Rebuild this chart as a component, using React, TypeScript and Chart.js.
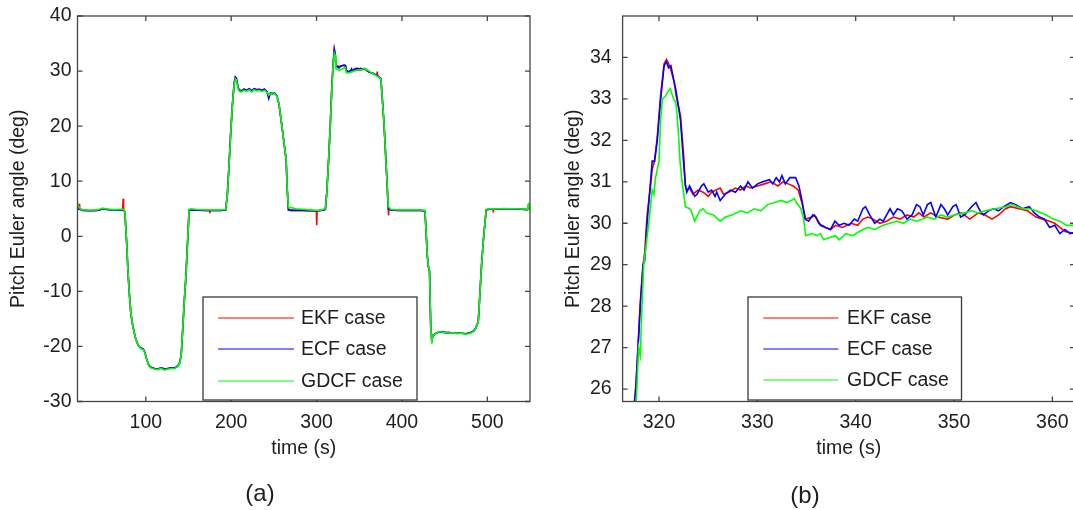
import React, { useEffect, useRef } from 'react';
import { Chart, registerables } from 'chart.js';

Chart.register(...registerables);

const FONT = "'Liberation Sans', Arial, Helvetica, sans-serif";
const TEXT_COLOR = '#1e1e1e';
const AXIS_COLOR = '#454545';

const seriesNames = ['EKF case', 'ECF case', 'GDCF case'];
const seriesColors = ['#ff0000', '#0000ff', '#00ff00'];

const leftXTicks = [100, 200, 300, 400, 500];
const leftYTicks = [-30, -20, -10, 0, 10, 20, 30, 40];
const rightXTicks = [320, 330, 340, 350, 360];
const rightYTicks = [26, 27, 28, 29, 30, 31, 32, 33, 34];

// ---------- (a) full run: [time s, pitch deg] ----------
const leftGDCF: [number, number][] = [
  [20, 5.6], [21.5, 5.4], [23, 5.0], [27, 4.8], [35, 4.75], [42, 4.8], [46, 4.9], [49, 5.1], [53, 5.0], [60, 4.85],
  [66, 4.85], [70, 4.9], [74, 4.85], [75.5, 4.5], [77.5, -1], [79, -6], [80.5, -10], [82.5, -14], [85, -16.5], [88, -18.5],
  [91, -19.8], [94, -20.4], [97, -20.6], [99, -21.2], [101, -22.3], [103.5, -23.5], [106, -23.9], [110, -24.1], [114, -24.2], [118, -24.0],
  [122, -24.3], [126, -24.1], [130, -24.0], [134, -24.0], [137, -23.7], [139.5, -23.2], [141.5, -21.5], [143, -17.5], [145, -12], [146.7, -8],
  [148.3, -3], [149.9, 2], [150.6, 4.9], [153, 5.0], [160, 4.85], [170, 4.8], [180, 4.8], [188, 4.8], [193.5, 4.9], [195.5, 7.5],
  [197.5, 13], [199.5, 19], [201.5, 24], [203.5, 27.5], [204.8, 28.6], [206, 28.4], [207.5, 27.3], [209, 26.4], [212, 26.2], [215, 26.5],
  [218, 26.3], [221, 26.6], [224, 26.2], [227, 26.6], [230, 26.4], [233, 26.5], [236, 26.3], [239, 26.5], [242, 26.1], [244, 25.6],
  [246, 25.9], [249, 25.8], [251, 25.9], [253.5, 25.4], [256, 24], [258.5, 21.1], [261, 18], [264.4, 13.9], [265.5, 9], [267, 5.2],
  [270, 5.2], [276, 5.0], [284, 4.9], [292, 4.8], [300, 4.7], [305, 4.75], [308, 4.9], [310.3, 5.0], [312, 8], [314, 13.5],
  [316, 20], [318, 27], [319.5, 31.5], [320.9, 33.2], [321.7, 32.9], [322.7, 30.4], [324.5, 30.3], [326.2, 30.1], [329, 30.3], [331.7, 30.5],
  [333.7, 30.6], [334.9, 29.7], [337, 29.65], [340.4, 29.8], [344, 30.0], [348.7, 30.2], [352.5, 30.3], [355.9, 30.45], [359.4, 30.2], [362, 29.95],
  [366, 29.5], [369.5, 29.2], [372, 29.0], [375.4, 28.5], [377, 25], [379, 20.5], [382, 11.5], [384, 5.4], [387, 4.9], [395, 4.8],
  [405, 4.8], [415, 4.8], [422, 4.8], [427, 4.7], [429.8, -3.7], [431, -5.5], [432.3, -6.3], [433.8, -17], [434.5, -17.8], [435, -19.5],
  [435.8, -18.3], [437.6, -17.9], [440, -17.6], [444, -17.3], [448, -17.5], [452, -17.4], [456, -17.6], [460, -17.5], [465, -17.7], [470, -17.6],
  [475, -17.8], [480, -17.6], [484, -17.3], [486.3, -16.8], [489.4, -15.5], [491.5, -10], [493.4, -4.9], [495.5, -0.5], [497.2, 2.4], [498.7, 4.9],
  [502, 5.0], [510, 4.95], [520, 5.05], [530, 5.0], [540, 4.95], [546.6, 4.9], [547.5, 5.7], [548.5, 5.9], [550, 4.5],
];

const leftECF: [number, number][] = [
  [20, 5.0], [22, 4.9], [27, 4.7], [35, 4.65], [42, 4.7], [46, 4.8], [49, 5.0], [53, 4.9], [60, 4.75], [66, 4.75],
  [70, 4.8], [74, 4.75], [75.5, 4.4], [77.5, -1], [79, -6], [80.5, -10], [82.5, -14], [85, -16.5], [88, -18.5], [91, -19.8],
  [94, -20.3], [97, -20.5], [99, -21.1], [101, -22.3], [103.5, -23.4], [106, -23.8], [110, -24.0], [114, -24.1], [118, -23.9], [122, -24.1],
  [126, -24.0], [130, -23.9], [134, -23.9], [137, -23.6], [139.5, -23.1], [141.5, -21.5], [143, -17.5], [145, -12], [146.7, -8], [148.3, -3],
  [149.9, 2], [150.6, 4.8], [153, 4.8], [160, 4.75], [170, 4.7], [180, 4.7], [188, 4.7], [193.5, 4.8], [195.5, 7.5], [197.5, 13],
  [199.5, 19], [201.5, 24], [203.5, 27.8], [204.8, 28.9], [206, 28.7], [207.5, 27.5], [209, 26.6], [212, 26.4], [215, 26.7], [218, 26.5],
  [221, 26.8], [224, 26.4], [227, 26.8], [230, 26.6], [233, 26.7], [236, 26.5], [239, 26.7], [242, 26.2], [244, 25.0], [246, 26.0],
  [249, 25.9], [251, 26.0], [253.5, 25.5], [256, 24], [258.5, 21.1], [261, 18], [264.4, 13.9], [265.5, 9], [267, 4.8], [270, 4.7],
  [276, 4.7], [284, 4.7], [292, 4.65], [300, 4.6], [305, 4.7], [308, 4.8], [310.3, 4.9], [312, 8], [314, 13.5], [316, 20],
  [318, 27.5], [319.5, 31.5], [320.8, 33.9], [321.7, 33.2], [322.8, 30.75], [324.5, 30.9], [326.2, 30.55], [328.3, 30.9], [331.2, 31.05], [333.3, 31.1],
  [334.2, 30.9], [334.9, 30.1], [337.4, 29.85], [339.9, 30.1], [341, 30.4], [342, 30.0], [344.2, 30.35], [346.2, 30.45], [347.6, 30.5], [350, 30.4],
  [352.2, 30.5], [354, 30.35], [355.8, 30.5], [358.2, 30.25], [360.2, 29.95], [362, 29.8], [366, 29.6], [369.5, 29.3], [372, 29.1], [375.4, 28.6],
  [377, 25], [379, 20.5], [382, 11.5], [384, 5.0], [387, 4.8], [395, 4.7], [405, 4.75], [415, 4.7], [422, 4.7], [427, 4.6],
  [429.8, -3.7], [431, -5.5], [432.3, -6.3], [433.8, -17], [434.5, -17.8], [435, -19.2], [435.8, -18.3], [437.6, -17.9], [440, -17.6], [444, -17.4],
  [448, -17.4], [452, -17.5], [456, -17.5], [460, -17.6], [465, -17.6], [470, -17.6], [475, -17.7], [480, -17.5], [484, -17.2], [486.3, -16.7],
  [489.4, -15.5], [491.5, -10], [493.4, -4.9], [495.5, -0.5], [497.2, 2.4], [498.7, 4.8], [502, 4.9], [510, 4.9], [520, 5.0], [530, 4.95],
  [540, 4.9], [546.6, 4.85], [548, 5.0], [550, 4.8],
];

const leftEKF: [number, number][] = [
  [20, 5.0], [21.5, 5.0], [22, 5.9], [22.5, 5.0], [27, 4.7], [35, 4.65], [42, 4.7], [46, 4.8], [49, 5.0], [53, 4.9],
  [60, 4.75], [66, 4.75], [70, 4.8], [73, 4.8], [73.5, 6.8], [74, 4.8], [75.5, 4.4], [77.5, -1], [79, -6], [80.5, -10],
  [82.5, -14], [85, -16.5], [88, -18.5], [91, -19.8], [94, -20.3], [97, -20.5], [99, -21.1], [101, -22.3], [103.5, -23.4], [106, -23.8],
  [110, -24.0], [114, -24.1], [118, -23.9], [122, -24.1], [126, -24.0], [130, -23.9], [134, -23.9], [137, -23.6], [139.5, -23.1], [141.5, -21.5],
  [143, -17.5], [145, -12], [146.7, -8], [148.3, -3], [149.9, 2], [150.6, 4.8], [153, 4.8], [160, 4.75], [170, 4.7], [174.7, 4.7],
  [175, 4.2], [175.3, 4.7], [180, 4.7], [188, 4.7], [193.5, 4.8], [195.5, 7.5], [197.5, 13], [199.5, 19], [201.5, 24], [203.5, 27.8],
  [204.8, 28.9], [206, 28.7], [207.5, 27.5], [209, 26.6], [212, 26.4], [215, 26.7], [218, 26.5], [221, 26.8], [224, 26.4], [227, 26.8],
  [230, 26.6], [233, 26.7], [236, 26.5], [239, 26.7], [242, 26.2], [244, 25.4], [246, 26.0], [249, 25.9], [251, 26.0], [253.5, 25.5],
  [256, 24], [258.5, 21.1], [261, 18], [264.4, 13.9], [265.5, 9], [267, 4.8], [270, 4.7], [276, 4.7], [284, 4.7], [292, 4.65],
  [299.8, 4.6], [300.2, 2.0], [300.6, 4.6], [305, 4.7], [308, 4.8], [310.3, 4.9], [312, 8], [314, 13.5], [316, 20], [318, 27.5],
  [319.5, 31.5], [320.8, 33.95], [321.7, 33.1], [322.8, 30.8], [324.5, 30.75], [326.2, 30.85], [328.8, 30.9], [331.4, 31.0], [333.6, 30.9], [334.9, 30.1],
  [337.4, 29.85], [339.5, 30.0], [341.2, 30.15], [343.8, 30.15], [346.4, 30.25], [349.4, 30.1], [352.5, 30.25], [355.7, 30.4], [358.3, 30.15], [362, 29.8],
  [366, 29.6], [369.5, 29.3], [370.7, 29.2], [371, 29.9], [371.3, 29.2], [372, 29.1], [375.4, 28.6], [377, 25], [379, 20.5], [382, 11.5],
  [384, 4.9], [384.3, 3.8], [384.6, 4.9], [387, 4.8], [395, 4.7], [405, 4.75], [415, 4.7], [422, 4.7], [427, 4.6], [429.8, -3.7],
  [431, -5.5], [432.3, -6.3], [433.8, -17], [434.5, -17.8], [435, -19.2], [435.8, -18.3], [437.6, -17.9], [440, -17.6], [444, -17.4], [448, -17.4],
  [452, -17.5], [456, -17.5], [460, -17.6], [465, -17.6], [470, -17.6], [475, -17.7], [480, -17.5], [484, -17.2], [486.3, -16.7], [489.4, -15.5],
  [491.5, -10], [493.4, -4.9], [495.5, -0.5], [497.2, 2.4], [498.7, 4.8], [502, 4.9], [506.8, 4.9], [507, 4.3], [507.2, 4.9], [510, 4.9],
  [520, 5.0], [530, 4.95], [540, 4.9], [546.6, 4.85], [548, 5.0], [550, 4.8],
];

// ---------- (b) zoom on the second pitch-up: [time s, pitch deg] ----------
const rightECF: [number, number][] = [
  [317.0, 23.8], [317.51, 25.7], [317.65, 26.0], [318.10, 28.0], [318.38, 29.0], [318.55, 29.1], [318.79, 30.0], [319.14, 31.0], [319.31, 31.5], [319.55, 31.5],
  [319.83, 32.0], [320.17, 33.0], [320.52, 33.8], [320.76, 33.9], [320.97, 33.75], [321.21, 33.8], [321.55, 33.4], [321.73, 33.2], [322.18, 32.5], [322.49, 31.5],
  [322.69, 30.9], [322.83, 30.75], [323.11, 30.9], [323.63, 30.65], [323.87, 30.7], [324.32, 30.9], [324.56, 30.95], [325.01, 30.75], [325.35, 30.8], [325.70, 30.65],
  [325.87, 30.75], [326.22, 30.55], [326.74, 30.7], [327.25, 30.8], [327.77, 30.75], [328.29, 30.9], [328.64, 30.8], [329.05, 31.0], [329.50, 30.85], [330.02, 30.95],
  [330.54, 31.0], [331.23, 31.05], [331.57, 30.95], [331.92, 31.1], [332.26, 31.0], [332.50, 31.15], [332.85, 30.95], [333.30, 31.1], [333.89, 31.1], [334.23, 30.9],
  [334.58, 30.5], [334.85, 30.1], [335.20, 30.05], [335.65, 30.2], [335.96, 30.15], [336.41, 29.95], [336.93, 29.9], [337.44, 29.85], [337.89, 30.05], [338.31, 29.95],
  [338.83, 30.0], [339.34, 29.95], [339.86, 30.1], [340.21, 30.05], [340.73, 30.35], [341.00, 30.4], [341.42, 30.2], [341.93, 30.0], [342.45, 30.1], [342.80, 30.05],
  [343.49, 30.35], [343.83, 30.2], [344.25, 30.35], [344.70, 30.3], [345.22, 30.1], [345.73, 30.2], [346.18, 30.45], [346.53, 30.4], [346.87, 30.2], [347.29, 30.45],
  [347.63, 30.5], [348.15, 30.15], [348.67, 30.45], [349.01, 30.35], [349.36, 30.2], [349.88, 30.4], [350.22, 30.45], [350.67, 30.15], [351.09, 30.2], [351.78, 30.4],
  [352.23, 30.5], [352.64, 30.3], [352.99, 30.2], [353.51, 30.3], [354.02, 30.35], [354.54, 30.3], [355.06, 30.4], [355.75, 30.5], [356.27, 30.45], [356.96, 30.35],
  [357.65, 30.4], [358.17, 30.25], [358.69, 30.15], [359.20, 30.1], [359.72, 29.9], [360.24, 29.95], [360.76, 29.75], [361.28, 29.85], [361.80, 29.75], [362.3, 29.78],
];

const rightEKF: [number, number][] = [
  [317.0, 23.8], [317.51, 25.7], [317.65, 26.1], [318.10, 28.1], [318.38, 29.0], [318.55, 29.3], [318.79, 30.2], [319.14, 30.9], [319.31, 31.3], [319.55, 31.5],
  [319.83, 32.1], [320.17, 33.1], [320.52, 33.85], [320.76, 33.95], [320.97, 33.85], [321.21, 33.7], [321.55, 33.4], [321.73, 33.1], [322.18, 32.6], [322.49, 31.7],
  [322.69, 30.9], [322.83, 30.8], [323.11, 30.85], [323.45, 30.7], [323.97, 30.8], [324.49, 30.75], [325.01, 30.65], [325.35, 30.75], [326.22, 30.85], [326.56, 30.7],
  [327.08, 30.75], [327.77, 30.85], [328.29, 30.8], [328.81, 30.9], [329.33, 30.85], [330.02, 30.9], [330.71, 30.95], [331.40, 31.0], [332.09, 30.9], [332.61, 31.0],
  [333.13, 30.95], [333.64, 30.9], [334.16, 30.8], [334.58, 30.45], [334.92, 30.1], [335.54, 30.15], [335.82, 30.2], [336.23, 30.0], [336.93, 29.9], [337.44, 29.85],
  [337.96, 29.95], [338.65, 29.9], [339.52, 30.0], [340.21, 29.95], [340.73, 30.1], [341.24, 30.15], [341.76, 30.1], [342.45, 30.0], [343.14, 30.05], [343.83, 30.15],
  [344.52, 30.1], [345.22, 30.2], [345.91, 30.15], [346.42, 30.25], [346.94, 30.15], [347.63, 30.25], [348.32, 30.15], [349.36, 30.1], [350.05, 30.2], [350.74, 30.25],
  [351.60, 30.1], [352.47, 30.25], [353.16, 30.2], [353.85, 30.1], [354.54, 30.2], [355.23, 30.35], [355.75, 30.4], [356.61, 30.35], [357.48, 30.3], [358.34, 30.15],
  [359.03, 30.1], [359.72, 30.05], [360.24, 30.0], [360.76, 29.9], [361.28, 29.8], [362.3, 29.75],
];

const rightGDCF: [number, number][] = [
  [317.0, 23.0], [317.75, 26.0], [317.93, 27.0], [318.10, 26.8], [318.27, 28.0], [318.45, 29.0], [318.96, 30.0], [319.31, 30.8], [319.48, 30.7], [319.65, 31.1],
  [320.0, 31.5], [320.17, 32.5], [320.35, 33.0], [320.62, 33.05], [320.97, 33.2], [321.14, 33.25], [321.49, 33.0], [321.73, 32.9], [321.97, 32.2], [322.14, 31.5],
  [322.35, 31.0], [322.69, 30.4], [323.11, 30.35], [323.28, 30.3], [323.63, 30.05], [324.15, 30.3], [324.49, 30.35], [324.84, 30.25], [325.53, 30.2], [326.22, 30.05],
  [326.74, 30.15], [327.43, 30.2], [328.29, 30.3], [328.98, 30.25], [329.67, 30.35], [330.36, 30.3], [331.05, 30.45], [331.74, 30.5], [332.44, 30.55], [332.95, 30.5],
  [333.47, 30.55], [333.75, 30.6], [333.99, 30.5], [334.44, 30.35], [334.71, 30.1], [334.92, 29.7], [335.54, 29.75], [336.06, 29.7], [336.41, 29.75], [336.75, 29.6],
  [337.27, 29.65], [337.96, 29.7], [338.31, 29.6], [339.00, 29.75], [339.69, 29.7], [340.38, 29.8], [340.73, 29.85], [341.24, 29.9], [341.93, 29.85], [342.80, 29.95],
  [343.49, 30.0], [344.18, 30.05], [344.87, 30.0], [345.56, 30.1], [346.25, 30.05], [347.29, 30.15], [347.98, 30.1], [348.67, 30.2], [349.36, 30.15], [350.05, 30.2],
  [351.09, 30.25], [351.78, 30.3], [352.47, 30.25], [353.16, 30.3], [354.20, 30.35], [355.23, 30.4], [355.92, 30.45], [356.96, 30.35], [357.65, 30.35], [358.34, 30.3],
  [359.38, 30.2], [360.07, 30.1], [360.76, 30.05], [361.45, 29.95], [362.3, 29.95],
];

type Pair = [number, number];

interface PanelCfg {
  width: number;
  series: Pair[][];
  xMin: number; xMax: number; yMin: number; yMax: number;
  xTicks: number[]; yTicks: number[];
  yAxisWidth: number;
  yTitlePad: number;
  yTickPad: number;
  padRight: number;
  legend: { x0: number; x1: number; y0: number; y1: number; lx0: number; lx1: number; tx: number; rows: number[] };
}

const PLOT_TOP = 16;
const PLOT_BOTTOM = 401.5;
const X_AXIS_H = 70;
const CANVAS_H = 510;
const FS = 19.5;
const TICK_LEN = 5;

function makeChart(canvas: HTMLCanvasElement, cfg: PanelCfg) {
  const framePlugin = {
    id: 'frameAndLegend',
    afterDatasetsDraw(chart: any) {
      const { ctx, chartArea: a, scales } = chart;
      ctx.save();
      ctx.strokeStyle = AXIS_COLOR;
      ctx.lineWidth = 1.3;
      ctx.strokeRect(a.left, a.top, a.right - a.left, a.bottom - a.top);
      ctx.beginPath();
      cfg.xTicks.forEach((v) => {
        const px = scales.x.getPixelForValue(v);
        ctx.moveTo(px, a.bottom); ctx.lineTo(px, a.bottom - TICK_LEN);
        ctx.moveTo(px, a.top); ctx.lineTo(px, a.top + TICK_LEN);
      });
      cfg.yTicks.forEach((v) => {
        const py = scales.y.getPixelForValue(v);
        ctx.moveTo(a.left, py); ctx.lineTo(a.left + TICK_LEN, py);
        ctx.moveTo(a.right, py); ctx.lineTo(a.right - TICK_LEN, py);
      });
      ctx.stroke();

      const L = cfg.legend;
      ctx.fillStyle = '#ffffff';
      ctx.fillRect(L.x0, L.y0, L.x1 - L.x0, L.y1 - L.y0);
      ctx.strokeStyle = '#3a3a3a';
      ctx.lineWidth = 1.3;
      ctx.strokeRect(L.x0, L.y0, L.x1 - L.x0, L.y1 - L.y0);
      ctx.font = `${FS}px ${FONT}`;
      ctx.textBaseline = 'middle';
      ctx.textAlign = 'left';
      chart.data.datasets.forEach((ds: any, i: number) => {
        const y = L.rows[i];
        ctx.strokeStyle = ds.borderColor;
        ctx.lineWidth = 1.2;
        ctx.beginPath();
        ctx.moveTo(L.lx0, y); ctx.lineTo(L.lx1, y);
        ctx.stroke();
        ctx.fillStyle = TEXT_COLOR;
        ctx.fillText(ds.label, L.tx, y + 1);
      });
      ctx.restore();
    },
  };

  return new Chart(canvas, {
    type: 'line',
    data: {
      datasets: cfg.series.map((s, i) => ({
        label: seriesNames[i],
        data: s.map(([x, y]) => ({ x, y })),
        borderColor: seriesColors[i],
        backgroundColor: seriesColors[i],
        borderWidth: 1.6,
        pointRadius: 0,
        tension: 0,
        fill: false,
        clip: 0,
        order: 3 - i,
      })),
    },
    options: {
      animation: false,
      responsive: false,
      maintainAspectRatio: false,
      events: [],
      layout: {
        padding: {
          left: 0,
          top: PLOT_TOP,
          right: cfg.padRight,
          bottom: CANVAS_H - PLOT_BOTTOM - X_AXIS_H,
        },
      },
      plugins: {
        legend: { display: false },
        tooltip: { enabled: false },
        title: { display: false },
      },
      scales: {
        x: {
          type: 'linear',
          min: cfg.xMin,
          max: cfg.xMax,
          grid: { display: false, drawTicks: false },
          border: { display: false },
          afterBuildTicks: (s: any) => { s.ticks = cfg.xTicks.map((v) => ({ value: v })); },
          afterFit: (s: any) => { s.height = X_AXIS_H; s.paddingLeft = 0; s.paddingRight = 0; },
          ticks: {
            autoSkip: false,
            maxRotation: 0,
            padding: 9,
            color: TEXT_COLOR,
            font: { family: FONT, size: FS },
            callback: (v: any) => String(v),
          },
          title: {
            display: true,
            text: 'time (s)',
            color: TEXT_COLOR,
            font: { family: FONT, size: FS },
            padding: { top: 0, bottom: 11.3 },
          },
        },
        y: {
          type: 'linear',
          min: cfg.yMin,
          max: cfg.yMax,
          grid: { display: false, drawTicks: false },
          border: { display: false },
          afterBuildTicks: (s: any) => { s.ticks = cfg.yTicks.map((v) => ({ value: v })); },
          afterFit: (s: any) => { s.width = cfg.yAxisWidth; s.paddingTop = 0; s.paddingBottom = 0; },
          ticks: {
            autoSkip: false,
            padding: cfg.yTickPad,
            color: TEXT_COLOR,
            font: { family: FONT, size: FS },
            callback: (v: any) => String(v),
          },
          title: {
            display: true,
            text: 'Pitch Euler angle (deg)',
            color: TEXT_COLOR,
            font: { family: FONT, size: FS },
            padding: { top: cfg.yTitlePad, bottom: 0 },
          },
        },
      },
    },
    plugins: [framePlugin],
  } as any);
}

const leftCfg: PanelCfg = {
  width: 540,
  series: [leftEKF, leftECF, leftGDCF],
  xMin: 20, xMax: 550, yMin: -30, yMax: 40,
  xTicks: leftXTicks, yTicks: leftYTicks,
  yAxisWidth: 77.5, yTitlePad: 6.6, yTickPad: 6, padRight: 10,
  legend: { x0: 203, x1: 417, y0: 297, y1: 400, lx0: 218, lx1: 294, tx: 301, rows: [318, 349, 381] },
};

const rightCfg: PanelCfg = {
  width: 560,
  series: [rightEKF, rightECF, rightGDCF],
  xMin: 316.3, xMax: 362.3, yMin: 25.7, yMax: 35,
  xTicks: rightXTicks, yTicks: rightYTicks,
  yAxisWidth: 82.6, yTitlePad: 22.3, yTickPad: 11, padRight: 25,
  legend: { x0: 208, x1: 421.5, y0: 297, y1: 400, lx0: 223.3, lx1: 298.4, tx: 307, rows: [318, 349, 380] },
};

function Panel({ cfg, left }: { cfg: PanelCfg; left: number }) {
  const ref = useRef<HTMLCanvasElement | null>(null);
  useEffect(() => {
    if (!ref.current) return;
    const chart = makeChart(ref.current, cfg);
    return () => chart.destroy();
  }, [cfg]);
  return (
    <canvas
      ref={ref}
      width={cfg.width}
      height={CANVAS_H}
      style={{ position: 'absolute', left, top: 0, width: cfg.width, height: CANVAS_H }}
    />
  );
}

const captionStyle: React.CSSProperties = {
  position: 'absolute',
  fontFamily: FONT,
  fontSize: 24,
  lineHeight: '24px',
  color: TEXT_COLOR,
  transform: 'translate(-50%, -50%)',
  whiteSpace: 'nowrap',
};

export default function App() {
  return (
    <div
      style={{
        position: 'fixed',
        left: 0,
        top: 0,
        width: 1073,
        height: 510,
        overflow: 'hidden',
        background: '#ffffff',
      }}
    >
      <Panel cfg={leftCfg} left={0} />
      <Panel cfg={rightCfg} left={540} />
      <div style={{ ...captionStyle, left: 260, top: 493 }}>(a)</div>
      <div style={{ ...captionStyle, left: 805, top: 495 }}>(b)</div>
    </div>
  );
}
